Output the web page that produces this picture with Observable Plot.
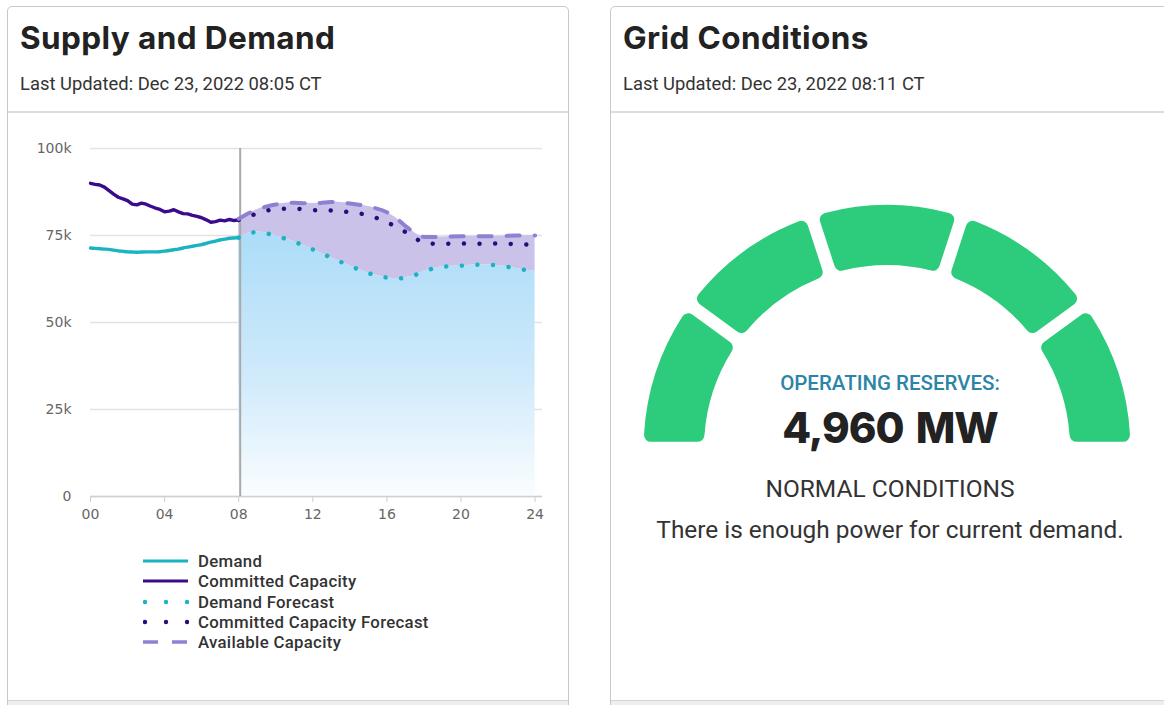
<!DOCTYPE html>
<html>
<head>
<meta charset="utf-8">
<script src="https://cdn.jsdelivr.net/npm/d3@7"></script>
<script src="https://cdn.jsdelivr.net/npm/@observablehq/plot@0.6"></script>
<style>
  html, body { margin: 0; padding: 0; background: #fff; }
  body { width: 1164px; height: 705px; overflow: hidden; position: relative; font-family: Roboto, sans-serif; }
  .card { position: absolute; top: 6px; height: 740px; border: 1px solid #c9c9c9; border-radius: 5px; background: #fff; }
  .title { position: absolute; left: 12px; top: 10.5px; font-family: Inter, sans-serif; font-weight: 700; font-size: 31.5px; color: #222; letter-spacing: 0.4px; white-space: nowrap; }
  .updated { position: absolute; left: 12px; top: 66.4px; font-family: Roboto, sans-serif; font-size: 18.4px; color: #333; white-space: nowrap; }
  .sep { position: absolute; left: 0; right: 0; top: 104px; height: 2px; background: #dcdcdc; }
  .footer { position: absolute; left: 0; right: 0; top: 693px; height: 50px; background: #eeeeee; border-top: 1px solid #d5d5d5; }
  #chart { position: absolute; left: 20px; top: 130px; }
  #legend { position: absolute; left: 143px; top: 551px; font-family: Roboto, sans-serif; font-weight: 500; font-size: 16.8px; letter-spacing: 0.3px; color: #333; }
  #legend .row { height: 20.3px; display: flex; align-items: center; }
  #legend span { line-height: 18px; display: block; }
  #legend svg { margin-right: 9px; flex: none; }
  #gauge { position: absolute; left: 610px; top: 190px; }
  .gtext { position: absolute; left: 610px; width: 560px; text-align: center; white-space: nowrap; }
</style>
</head>
<body>
<div class="card" style="left:7px; width:560px;">
  <div class="title">Supply and Demand</div>
  <div class="updated">Last Updated: Dec 23, 2022 08:05 CT</div>
  <div class="sep"></div>
  <div class="footer"></div>
</div>
<div class="card" style="left:610px; width:600px;">
  <div class="title">Grid Conditions</div>
  <div class="updated">Last Updated: Dec 23, 2022 08:11 CT</div>
  <div class="sep"></div>
  <div class="footer"></div>
</div>
<div id="chart"></div>
<div id="legend"></div>
<div id="gauge"></div>
<div class="gtext" style="top:370.5px; font-family:Roboto; font-weight:500; font-size:20.5px; color:#2b85a6;">OPERATING RESERVES:</div>
<div class="gtext" style="top:402px; font-family:Inter; font-weight:800; font-size:42px; letter-spacing:-1px; word-spacing:4px; color:#222;">4,960 MW</div>
<div class="gtext" style="top:474.3px; font-family:Roboto; font-size:24.5px; color:#333;">NORMAL CONDITIONS</div>
<div class="gtext" style="top:515.3px; font-family:Roboto; font-size:24.4px; color:#333;">There is enough power for current demand.</div>
<script>
// ---- data (MW) ----
const actualHours = [0,0.25,0.5,0.75,1,1.25,1.5,1.75,2,2.25,2.5,2.75,3,3.25,3.5,3.75,4,4.25,4.5,4.75,5,5.25,5.5,5.75,6,6.25,6.5,6.75,7,7.25,7.5,7.75,8];
const demandActual = [71400,71300,71200,71100,71000,70800,70600,70450,70300,70250,70200,70250,70300,70300,70300,70350,70500,70700,70900,71100,71400,71650,71900,72150,72400,72750,73100,73400,73700,73950,74200,74300,74400];
const committedActual = [90000,89700,89500,88900,87900,86900,86000,85500,85000,84000,83800,84300,84000,83400,82900,82500,81800,82000,82400,81800,81300,81200,80800,80500,80100,79500,78800,79000,79400,79200,79600,79300,79500];

const forecastHours = [8,9,10,11,12,13,14,15,16,16.5,17,17.5,18,19,20,21,22,23,24];
const demandForecast = [74400,76000,74900,73200,71000,68600,66300,64200,62900,62600,62900,63600,64700,66000,66300,66600,66400,65500,64700];
const committedForecast = [79500,81300,82600,82700,82300,82200,81700,80800,78800,77500,76000,74400,72800,72600,72700,72600,72700,72500,72400];
const availableCapacity = [79800,82500,83900,84400,84200,84600,84200,83300,81700,80000,77700,75800,74600,74600,74800,74800,74800,75000,75000];

const nowHour = 8.08;
const xTicks = [0,4,8,12,16,20,24];
const yTicks = [0,25000,50000,75000,100000];

const legendNames = ["Demand","Committed Capacity","Demand Forecast","Committed Capacity Forecast","Available Capacity"];
const legendColors = ["#19b3c1","#3a0b8c","#19b3c1","#2c0a78","#8f81d2"];
const legendStyles = ["solid","solid","dotted","dotted","dashed"];

const gaugeSegments = [0,1,2,3,4];
const gaugeColor = "#2dcc7c";

// ---- tables ----
const actual = actualHours.map((h,i)=>({h, demand: demandActual[i], committed: committedActual[i]}));
const forecast = forecastHours.map((h,i)=>({h, demand: demandForecast[i], committed: committedForecast[i], avail: availableCapacity[i]}));

const defs = () => {
  const d = d3.create("svg:defs");
  const g = d.append("linearGradient").attr("id","blueGrad").attr("x1",0).attr("y1",0).attr("x2",0).attr("y2",1);
  g.append("stop").attr("offset","0%").attr("stop-color","#acdcf8");
  g.append("stop").attr("offset","55%").attr("stop-color","#cfeafb");
  g.append("stop").attr("offset","100%").attr("stop-color","#fafdff");
  return d.node();
};

const curve = "monotone-x";
const chart = Plot.plot({
  width: 530, height: 400,
  marginLeft: 70, marginRight: 8, marginTop: 18, marginBottom: 34,
  style: {fontFamily: "DejaVu Sans, sans-serif", fontSize: "14px", color: "#666", background: "transparent", overflow: "visible"},
  x: {domain: [0, 24.4], label: null},
  y: {domain: [0, 100000], label: null},
  marks: [
    defs,
    Plot.gridY(yTicks, {stroke: "#e2e2e2", strokeOpacity: 1, strokeWidth: 1.5}),
    Plot.areaY(forecast, {x: "h", y1: 0, y2: "demand", fill: "url(#blueGrad)", curve}),
    Plot.areaY(forecast, {x: "h", y1: "demand", y2: "avail", fill: "#cbc2ea", curve}),
    Plot.ruleY([0], {stroke: "#cfcfcf", strokeWidth: 1.5}),
    Plot.axisX(xTicks, {tickSize: 6, tickPadding: 7, stroke: "#cfcfcf", fill: "#666", tickFormat: d => String(d).padStart(2, "0"), label: null}),
    Plot.axisY(yTicks, {tickSize: 0, tickPadding: 19, fill: "#666", tickFormat: d => d === 0 ? "0" : (d/1000) + "k", label: null}),
    Plot.ruleX([nowHour], {y1: 0, y2: 100000, stroke: "#a9a9a9", strokeWidth: 2}),
    Plot.lineY(actual, {x: "h", y: "demand", stroke: legendColors[0], strokeWidth: 3.4, curve}),
    Plot.lineY(actual, {x: "h", y: "committed", stroke: legendColors[1], strokeWidth: 3.4}),
    Plot.lineY(forecast, {x: "h", y: "demand", stroke: legendColors[2], strokeWidth: 4.5, strokeDasharray: "0.01 15.6", strokeLinecap: "round", curve}),
    Plot.lineY(forecast, {x: "h", y: "committed", stroke: legendColors[3], strokeWidth: 4.5, strokeDasharray: "0.01 15.6", strokeLinecap: "round", curve}),
    Plot.lineY(forecast, {x: "h", y: "avail", stroke: legendColors[4], strokeWidth: 4, strokeDasharray: "13 15", curve})
  ]
});
document.getElementById("chart").append(chart);

// ---- legend ----
const leg = d3.select("#legend");
legendNames.forEach((name, i) => {
  const row = leg.append("div").attr("class", "row");
  const s = row.append("svg").attr("width", 46).attr("height", 20);
  const st = legendStyles[i];
  if (st === "solid") s.append("line").attr("x1",0).attr("x2",45).attr("y1",10).attr("y2",10).attr("stroke",legendColors[i]).attr("stroke-width",3);
  else if (st === "dotted") [2,23,44].forEach(cx => s.append("circle").attr("cx",cx).attr("cy",10).attr("r",2.2).attr("fill",legendColors[i]));
  else s.append("line").attr("x1",0).attr("x2",45).attr("y1",10).attr("y2",10).attr("stroke",legendColors[i]).attr("stroke-width",3.5).attr("stroke-dasharray","15 14");
  row.append("span").text(name);
});

// ---- gauge ----
const gaugeMark = (index, scales, values, dims) => {
  const ang = d3.scaleLinear().domain([0, gaugeSegments.length]).range([-Math.PI/2, Math.PI/2]);
  const arc = d3.arc().innerRadius(185).outerRadius(246).padAngle(0.042).cornerRadius(7);
  const g = d3.create("svg:g").attr("transform", `translate(${dims.width/2},261)`);
  g.selectAll("path").data(gaugeSegments).join("path")
    .attr("d", s => arc({startAngle: ang(s), endAngle: ang(s+1)}))
    .attr("fill", gaugeColor);
  return g.node();
};
const gauge = Plot.plot({
  width: 560, height: 300, margin: 0,
  x: {domain: [0, 5], axis: null}, y: {axis: null},
  style: {background: "transparent"},
  marks: [gaugeMark]
});
document.getElementById("gauge").append(gauge);
</script>
</body>
</html>
